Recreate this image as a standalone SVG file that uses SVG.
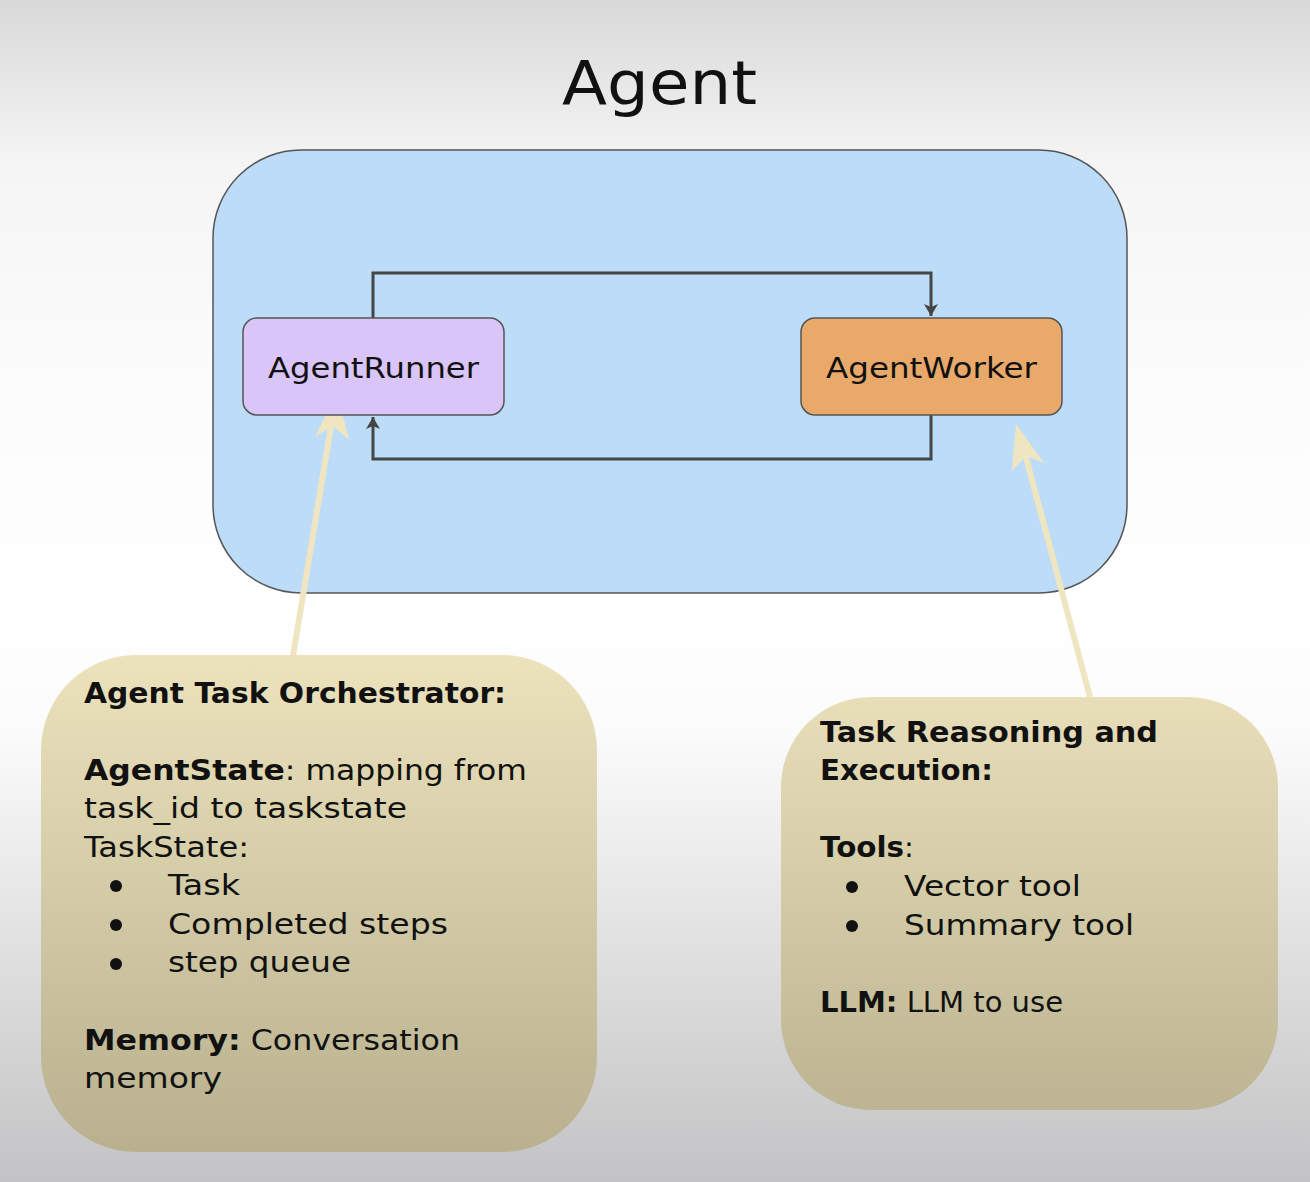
<svg xmlns="http://www.w3.org/2000/svg" width="1310" height="1182" viewBox="0 0 1310 1182">
  <defs>
    <linearGradient id="bg" x1="0" y1="0" x2="0" y2="1182" gradientUnits="userSpaceOnUse">
      <stop offset="0" stop-color="#d9d9d9"/>
      <stop offset="0.14" stop-color="#f5f5f5"/>
      <stop offset="0.3" stop-color="#fbfbfb"/>
      <stop offset="0.52" stop-color="#ffffff"/>
      <stop offset="0.62" stop-color="#fbfbfb"/>
      <stop offset="1" stop-color="#c3c3c5"/>
    </linearGradient>
    <linearGradient id="note" x1="0" y1="655" x2="0" y2="1152" gradientUnits="userSpaceOnUse">
      <stop offset="0" stop-color="#ece3bd"/>
      <stop offset="1" stop-color="#b8b08e"/>
    </linearGradient>
    <marker id="arr" viewBox="0 0 12 16" refX="12" refY="8" markerWidth="12" markerHeight="16" markerUnits="userSpaceOnUse" orient="auto">
      <path d="M0,1 L12,8 L0,15 L3,8 Z" fill="#454545"/>
    </marker>
  </defs>
  <style>
    .t { font-family: "DejaVu Sans", "Noto Sans", sans-serif; fill: #111; }
    .body { font-size: 28px; }
    .b { font-weight: bold; }
    .node { stroke: #555; stroke-width: 1.5; }
    .link { fill: none; stroke: #454545; stroke-width: 3; }
    .ptr { fill: none; stroke: #efe6c1; stroke-width: 6; }
    .ptrhead { fill: #efe6c1; }
  </style>
  <rect x="0" y="0" width="1310" height="1182" fill="url(#bg)"/>
  <text class="t" x="562" y="104" font-size="60" textLength="195" lengthAdjust="spacingAndGlyphs">Agent</text>

  <g id="agent">
    <rect x="213" y="150" width="914" height="443" rx="88" fill="#bcdcf7" class="node"/>
  </g>

  <g id="connectors">
    <path class="link" d="M373,318 V273 H931 V316" marker-end="url(#arr)"/>
    <path class="link" d="M931,415 V459 H373 V417" marker-end="url(#arr)"/>
    <path class="ptr" d="M293,656 L332,420"/>
    <path class="ptrhead" d="M337,392 L349,440 L333,426 L315,437 Z"/>
    <path class="ptr" d="M1090,697 L1024,450"/>
    <path class="ptrhead" d="M1016,424 L1044,463 L1026,456 L1012,471 Z"/>
  </g>

  <g id="agent-runner">
    <rect x="243" y="318" width="261" height="97" rx="14" fill="#d9c5f7" class="node"/>
    <text class="t" x="268" y="378" font-size="28" textLength="211" lengthAdjust="spacingAndGlyphs">AgentRunner</text>
  </g>

  <g id="agent-worker">
    <rect x="801" y="318" width="261" height="97" rx="14" fill="#e8a96b" class="node"/>
    <text class="t" x="826" y="378" font-size="28" textLength="211" lengthAdjust="spacingAndGlyphs">AgentWorker</text>
  </g>

  <g id="orchestrator-note">
    <rect x="41" y="655" width="556" height="497" rx="95" fill="url(#note)"/>
    <text class="t body b" x="84" y="703" textLength="422" lengthAdjust="spacingAndGlyphs">Agent Task Orchestrator:</text>
    <text class="t body" x="84" y="780" textLength="443" lengthAdjust="spacingAndGlyphs"><tspan class="b">AgentState</tspan>: mapping from</text>
    <text class="t body" x="84" y="818" textLength="323" lengthAdjust="spacingAndGlyphs">task_id to taskstate</text>
    <text class="t body" x="84" y="857" textLength="165" lengthAdjust="spacingAndGlyphs">TaskState:</text>
    <circle cx="116" cy="886" r="6" fill="#111"/>
    <text class="t body" x="168" y="895" textLength="72" lengthAdjust="spacingAndGlyphs">Task</text>
    <circle cx="116" cy="925" r="6" fill="#111"/>
    <text class="t body" x="168" y="934" textLength="280" lengthAdjust="spacingAndGlyphs">Completed steps</text>
    <circle cx="116" cy="964" r="6" fill="#111"/>
    <text class="t body" x="168" y="972" textLength="183" lengthAdjust="spacingAndGlyphs">step queue</text>
    <text class="t body" x="84" y="1050" textLength="376" lengthAdjust="spacingAndGlyphs"><tspan class="b">Memory:</tspan> Conversation</text>
    <text class="t body" x="84" y="1088" textLength="138" lengthAdjust="spacingAndGlyphs">memory</text>
  </g>

  <g id="worker-note">
    <rect x="781" y="697" width="497" height="413" rx="90" fill="url(#note)"/>
    <text class="t body b" x="820" y="742" textLength="338" lengthAdjust="spacingAndGlyphs">Task Reasoning and</text>
    <text class="t body b" x="820" y="780" textLength="173" lengthAdjust="spacingAndGlyphs">Execution:</text>
    <text class="t body" x="820" y="857" textLength="94" lengthAdjust="spacingAndGlyphs"><tspan class="b">Tools</tspan>:</text>
    <circle cx="852" cy="887" r="6" fill="#111"/>
    <text class="t body" x="904" y="896" textLength="177" lengthAdjust="spacingAndGlyphs">Vector tool</text>
    <circle cx="852" cy="926" r="6" fill="#111"/>
    <text class="t body" x="904" y="935" textLength="230" lengthAdjust="spacingAndGlyphs">Summary tool</text>
    <text class="t body" x="820" y="1012" textLength="243" lengthAdjust="spacingAndGlyphs"><tspan class="b">LLM:</tspan> LLM to use</text>
  </g>
</svg>
